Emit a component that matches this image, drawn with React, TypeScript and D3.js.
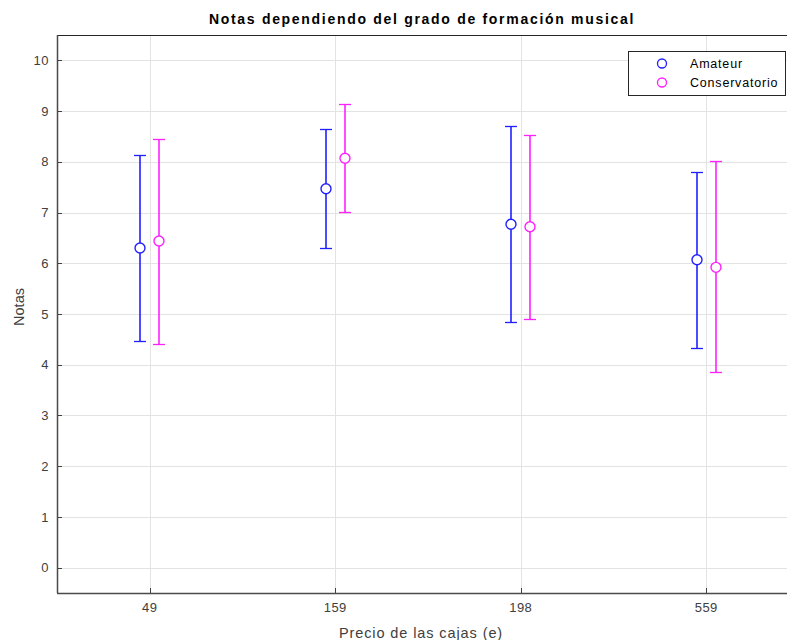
import React from "react";
import * as d3 from "d3";

const categories = ["49", "159", "198", "559"];
const seriesNames = ["Amateur", "Conservatorio"];
const amateurMean = [6.3, 7.47, 6.77, 6.07];
const amateurLow = [4.47, 6.3, 4.85, 4.32];
const amateurHigh = [8.13, 8.64, 8.7, 7.8];
const consMean = [6.44, 8.07, 6.72, 5.92];
const consLow = [4.41, 7.01, 4.9, 3.85];
const consHigh = [8.45, 9.14, 8.53, 8.01];
const yTicks = [0, 1, 2, 3, 4, 5, 6, 7, 8, 9, 10];

const colors = ["#2020ff", "#ff20ff"];
const offsets = [-0.05, 0.05];

export default function App() {
  const W = 787, H = 640;
  const left = 57, right = 799, top = 35, bottom = 593;
  const x = d3.scaleLinear().domain([0.5, 4.5]).range([left, right]);
  const y = d3.scaleLinear().domain([-0.5, 10.5]).range([bottom, top]);
  const font = "'Liberation Sans', Arial, Helvetica, sans-serif";
  const axisColor = "#404040";
  const series = [
    { mean: amateurMean, low: amateurLow, high: amateurHigh },
    { mean: consMean, low: consLow, high: consHigh },
  ];
  const cap = 6;
  const px = (v: number) => Math.round(v) + 0.5;
  return (
    <svg width={W} height={H} style={{ position: "absolute", left: 0, top: 0, background: "#fff" }} fontFamily={font}>
      <rect x={0} y={0} width={W} height={H} fill="#fff" />
      {/* grid */}
      {yTicks.map((t) => (
        <line key={"gy" + t} x1={left} x2={right} y1={px(y(t))} y2={px(y(t))} stroke="#e3e3e3" strokeWidth={1} />
      ))}
      {categories.map((c, i) => (
        <line key={"gx" + c} x1={px(x(i + 1))} x2={px(x(i + 1))} y1={top} y2={bottom} stroke="#e3e3e3" strokeWidth={1} />
      ))}
      {/* ticks */}
      {yTicks.map((t) => (
        <g key={"ty" + t}>
          <line x1={left} x2={left + 5} y1={px(y(t))} y2={px(y(t))} stroke={axisColor} />
          <text x={left - 8} y={y(t)} dy="0.36em" textAnchor="end" fontSize={13} letterSpacing={0.5} fill={axisColor}>{t}</text>
        </g>
      ))}
      {categories.map((c, i) => (
        <g key={"tx" + c}>
          <line x1={px(x(i + 1))} x2={px(x(i + 1))} y1={bottom} y2={bottom - 5} stroke={axisColor} />
          <text x={x(i + 1)} y={bottom + 19} textAnchor="middle" fontSize={13} letterSpacing={0.4} fill={axisColor}>{c}</text>
        </g>
      ))}
      {/* box */}
      <line x1={left} x2={right} y1={top + 0.5} y2={top + 0.5} stroke="#262626" />
      <line x1={left} x2={right} y1={bottom + 0.5} y2={bottom + 0.5} stroke="#4a4a4a" strokeWidth={1.5} />
      <line x1={left + 0.5} x2={left + 0.5} y1={top} y2={bottom} stroke="#4a4a4a" strokeWidth={1.5} />
      {/* error bars */}
      {series.map((s, k) => (
        <g key={"s" + k} stroke={colors[k]} fill="none" strokeWidth={1.6}>
          {categories.map((c, i) => {
            const cx = Math.round(x(i + 1 + offsets[k]));
            const lo = px(y(s.low[i]));
            const hi = px(y(s.high[i]));
            return (
              <g key={c}>
                <line x1={cx} x2={cx} y1={lo} y2={hi} />
                <line x1={cx - cap} x2={cx + cap} y1={lo} y2={lo} strokeWidth={1.3} />
                <line x1={cx - cap} x2={cx + cap} y1={hi} y2={hi} strokeWidth={1.3} />
                <circle cx={cx} cy={y(s.mean[i])} r={5} fill="#fff" strokeWidth={1.4} />
              </g>
            );
          })}
        </g>
      ))}
      {/* title */}
      <text x={422} y={24} textAnchor="middle" fontSize={14} fontWeight="bold" letterSpacing={1.7} fill="#000">Notas dependiendo del grado de formación musical</text>
      <text x={421} y={638} textAnchor="middle" fontSize={14.5} letterSpacing={0.9} fill={axisColor}>Precio de las cajas (e)</text>
      <text transform={`translate(24,307) rotate(-90)`} textAnchor="middle" fontSize={14.5} fill={axisColor}>Notas</text>
      {/* legend */}
      <rect x={628.5} y={51.5} width={157} height={44} fill="#fff" stroke="#262626" strokeWidth={1} />
      {seriesNames.map((n, k) => (
        <g key={n}>
          <circle cx={662} cy={63.5 + k * 19} r={4.5} fill="none" stroke={colors[k]} strokeWidth={1.3} />
          <text x={690} y={63.5 + k * 19} dy="0.36em" fontSize={12.5} letterSpacing={0.8} fill="#000">{n}</text>
        </g>
      ))}
    </svg>
  );
}
